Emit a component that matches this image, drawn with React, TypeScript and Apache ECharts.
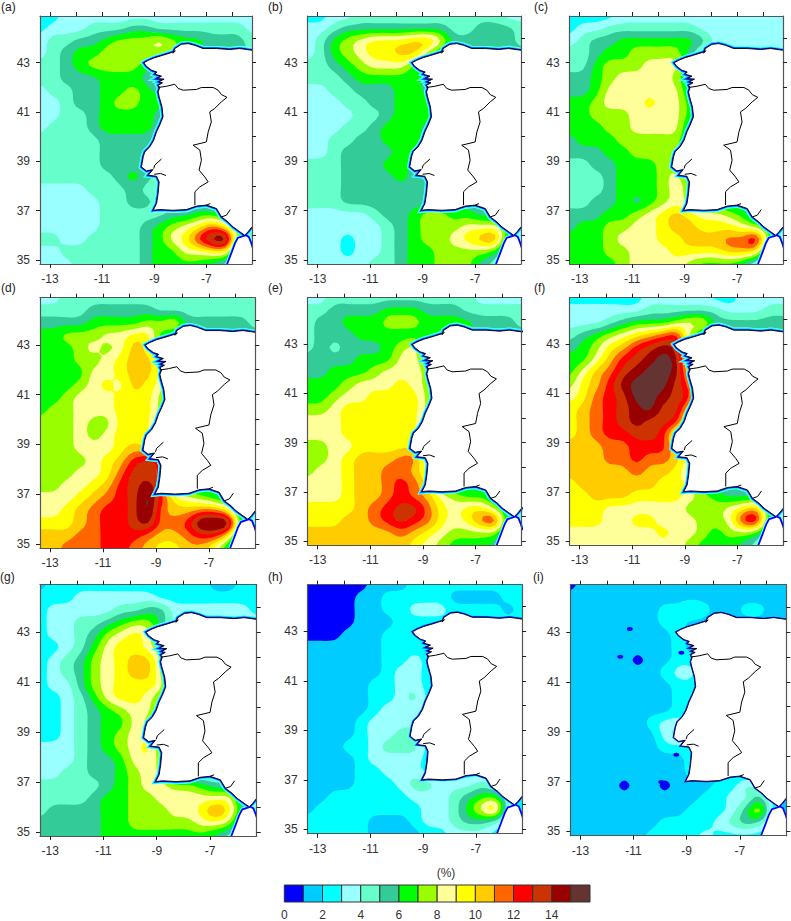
import React, { useEffect, useRef } from "react";
import * as echarts from "echarts";

// Colour classes 0..15 (one per percentage unit)
const classColors = ["#0000FF","#00CCFF","#00FFFF","#99FFFF","#66FFCC","#33CC99","#00FF00","#99FF00","#FFFF99","#FFFF00","#FFCC00","#FF6600","#FF0000","#CC3300","#990000","#663333"];
const colorbarLabels = [0,2,4,6,8,10,12,14];
const lonLabels = [-13,-11,-9,-7];
const lonTicks = [-13,-12,-11,-10,-9,-8,-7,-6];
const latLabels = [35,37,39,41,43];
const latTicks = [35,36,37,38,39,40,41,42,43,44];
const lonMin = -13.38, lonMax = -5.25, latMin = 34.83, latMax = 44.89;
const panelNames = ["(a)","(b)","(c)","(d)","(e)","(f)","(g)","(h)","(i)"];

// Values: one hex digit per grid node = % class, north to south, west to east
const valuesA = ["22333333333333333","23334445544444443","34455677787665554","34566777776655554","44567777655555555","44555666544444444","34455667654444444","33455677664444444","33445666654444444","34445666654444444","44444555544444444","44444555544444444","44444555544444444","44444456544444444","33334445444444444","33333445544444444","33333444445566555","3333344456789b965","443344445689cef63","33444444566889932","33344444566665422"];
const valuesB = ["22334444444444433","33455555555445554","34678999aa8555554","3467899aa75555555","44567888655555555","44456666655555555","33445556655555555","33344556665555555","33334456665555555","33344566655555555","33445566655555555","33455556655555555","44455566555555555","44455556555555555","44455555555555555","44455555555555555","33333455677665555","33333345677788863","3332334567789ab53","33323345667777632","33333445667775422"];
const valuesC = ["22223333333333333","23344444443333333","34556666665333333","44566777753333333","44677788854444444","55678888754444444","55688888854444444","66788898865555555","66777888865555555","66677888855555555","56667777755555555","55566777755555555","44556667755555555","44456667865555555","44456667875555555","44556567875555555","55566789a98876444","56677889aa9998753","666788899aaabbd63","666778889999aa932","66667888876665322"];
const valuesD = ["33444444444444444","44445555544444444","55556666778555554","66777889965555555","6667878a965555555","6667789aa85555555","6666889aa85555555","6667898a985555555","66788899975555555","67788899975555555","77787799965555555","77787899965555555","7778889a965555555","777789acdc5555555","777889bddc5555555","77889acdec5555555","8889abcdfc9876555","889abccdfbaabb943","999abccdebbcfff53","aaabbcccbaabcc932","aabbbccba99aa8522"];
const valuesE = ["33444444444443333","44555566655544444","45566677766665554","45556666665555555","45455567855555555","55556668865555555","55666788875555555","66678889875555555","66788999975555555","77899999975555555","88899999965555555","88899999965555555","77889999965555555","7789aaabb75555555","7889aabba85555555","8889aabcb95555555","8889aabcba8766555","9999abcddb9899743","999aabcdcb989bc53","aaaaaaaba98777732","aaaaaaaa987666522"];
const valuesF = ["22222233333223333","33333344444433344","33345666788555555","456789abc75555555","5679acded85555555","668acdefe85555555","68abdeffe95555555","79acefffdb5555555","89bcdffedc5555555","9abcdefdd95555555","9abcdeddc75555555","9abccddc875555555","aaabbccc965555555","aaabbcbba85555555","aaaaabaa975555555","9aaaaaa9985555555","99aaa999987655555","99988888877789a53","9998899888778cd53","88888889887677632","88888888876665422"];
const valuesG = ["12222222222221122","22233333322222222","23333344553333332","23344567753333333","23345789853333333","22346899863333333","2345789aa73333333","2345789aa73333333","23357899983333333","22346899863333333","22345678853333333","22345668753333333","22345678853333333","33345678963333333","33345568873333333","33445567873333333","44444567887765555","44445667788888843","4555566777889b953","55555667777788732","55555666666665422"];
const valuesH = ["00000111222222222","00001122222111122","00001122333222212","00001112222222222","00011122222222222","11111122222222222","11111122322222222","11111123322222222","11111223322222222","11111223422222222","11111233322222222","11112333322222222","11112334422222222","11122344422222222","11112333322222222","11112233322222222","11112223443334322","11222222333456632","12222222233468a32","22222111233455422","22222111122333222"];
const valuesI = ["01111111111111111","11111111111111111","11111112232112211","11111112211111111","11111111211111111","11111111211111111","11111011221111111","11111112331111111","11111111221111111","11111111221111111","11111111221111111","11111123321111111","11111113421111111","11111112221111111","11111111121111111","11111111121111111","11110110111224321","11111111112233521","11111111122235821","11111112222345421","11111122223222222"];
const panelValues = [valuesA,valuesB,valuesC,valuesD,valuesE,valuesF,valuesG,valuesH,valuesI];

// Small isolated patches: panel, lon, lat, class
const patchPanels = [8,8,8,8,8];
const patchLons = [-11.14,-9.2,-9.39,-9.96,-11.5];
const patchLats = [43.11,42.16,38.07,36.98,42.0];
const patchClasses = [0,0,0,0,0];

// Map outlines as lon/lat
const coastline = [[-5.0,43.5],[-5.25,43.5],[-5.72,43.57],[-6.1,43.53],[-6.61,43.57],[-7.13,43.57],[-7.44,43.7],[-7.7,43.77],[-7.96,43.74],[-8.21,43.57],[-8.28,43.38],[-8.19,43.48],[-8.27,43.43],[-8.66,43.3],[-8.98,43.2],[-9.23,43.09],[-9.4,42.99],[-9.3,42.85],[-9.1,42.69],[-8.9,42.62],[-8.98,42.53],[-8.72,42.45],[-8.9,42.35],[-8.62,42.33],[-8.82,42.22],[-8.68,42.18],[-8.85,42.08],[-8.79,41.99],[-8.85,41.81],[-8.81,41.61],[-8.7,41.2],[-8.66,40.8],[-8.79,40.46],[-8.91,40.19],[-9.02,39.85],[-9.17,39.58],[-9.36,39.38],[-9.42,39.18],[-9.49,38.77],[-9.3,38.61],[-9.05,38.66],[-9.23,38.43],[-8.91,38.39],[-8.81,38.16],[-8.85,37.69],[-8.91,37.28],[-9.04,37.01],[-8.79,37.04],[-8.27,37.01],[-7.76,37.04],[-7.38,37.18],[-7.0,37.22],[-6.61,37.08],[-6.42,36.74],[-6.17,36.54],[-5.98,36.34],[-5.72,36.14],[-5.53,36.0],[-5.4,36.14],[-5.25,36.34],[-5.0,36.45]];
const moroccoCoast = [[-6.25,34.6],[-6.17,34.82],[-6.01,35.26],[-5.87,35.66],[-5.77,35.86],[-5.49,35.96],[-5.4,35.91],[-5.31,35.66],[-5.25,35.46],[-5.0,35.3]];
const borderLine = [[-8.85,41.99],[-8.53,42.04],[-8.21,42.12],[-8.08,41.95],[-7.89,41.88],[-7.38,41.91],[-7.19,41.99],[-6.74,41.99],[-6.55,41.88],[-6.42,41.7],[-6.21,41.59],[-6.42,41.41],[-6.68,41.14],[-6.87,41.0],[-6.81,40.59],[-6.93,40.19],[-7.0,39.78],[-7.51,39.65],[-7.25,39.45],[-7.19,39.04],[-7.28,38.64],[-7.06,38.36],[-6.93,38.16],[-7.25,37.96],[-7.44,37.76],[-7.44,37.22]];
const riverLines = [[[-9.02,38.7],[-8.98,38.84],[-8.72,39.09]],[[-9.0,38.47],[-8.75,38.5],[-8.55,38.42]],[[-7.0,37.22],[-6.85,37.28]],[[-6.42,36.74],[-6.23,36.81],[-6.08,37.04]]];
const coastClassesByPanel = [[3,2,1,0],[3,2,1,0],[3,2,1,0],[3,2,1,0],[3,2,1,0],[3,2,1,0],[3,2,1,0],[1,0],[0]];

// Layout
const panelBoxes = [[40,16,212,248],[307.7,16,213.3,248],[569.7,16,213.3,248],[40,297.7,215.3,250.6],[307.7,297.7,214,247.6],[569.7,297.7,213.6,247.6],[40,584.7,216.7,251.3],[307.7,584.7,214.3,249],[570.3,584.7,216,251]];
const letterPositions = [[1,7],[268,7],[534,7],[1,288],[268,288],[534,288],[0,577],[268,577],[533,577]];
const FONT = "'Liberation Sans', Arial, sans-serif";
const TEXT = "#333333";
const FRAME = "#555555";
const REFINE = 3;

const decode = (rows: string[]) => rows.map((r) => Array.from(r.padEnd(17, r[r.length - 1])).map((c) => parseInt(c, 16) + 0.5));

function refineField(f: number[][]) {
  const R = f.length, C = f[0].length;
  const at = (j: number, i: number) => f[Math.max(0, Math.min(R - 1, j))][Math.max(0, Math.min(C - 1, i))];
  const cr = (a: number, b: number, c: number, d: number, t: number) =>
    0.5 * (2 * b + (c - a) * t + (2 * a - 5 * b + 4 * c - d) * t * t + (3 * b - a - 3 * c + d) * t * t * t);
  const out: number[][] = [];
  for (let jj = 0; jj <= (R - 1) * REFINE; jj++) {
    const J = Math.min(R - 2, Math.floor(jj / REFINE)), tj = jj / REFINE - J;
    const row: number[] = [];
    for (let ii = 0; ii <= (C - 1) * REFINE; ii++) {
      const I = Math.min(C - 2, Math.floor(ii / REFINE)), ti = ii / REFINE - I;
      const col = [-1, 0, 1, 2].map((dj) => cr(at(J + dj, I - 1), at(J + dj, I), at(J + dj, I + 1), at(J + dj, I + 2), ti));
      const v = cr(col[0], col[1], col[2], col[3], tj);
      const cs = [at(J, I), at(J, I + 1), at(J + 1, I), at(J + 1, I + 1)];
      row.push(Math.max(Math.min(...cs), Math.min(Math.max(...cs), v)));
    }
    out.push(row);
  }
  return out;
}

// Light rounding of the drawn contours so that they do not follow the reading grid
function soften(f: number[][]) {
  const w = [1, 4, 6, 4, 1];
  const R = f.length, C = f[0].length;
  const h = f.map((row) => row.map((_, i) => w.reduce((s, k, o) => s + k * row[Math.max(0, Math.min(C - 1, i + o - 2))], 0) / 16));
  return h.map((row, j) => row.map((_, i) => w.reduce((s, k, o) => s + k * h[Math.max(0, Math.min(R - 1, j + o - 2))][i], 0) / 16));
}

const fields = panelValues.map((p) => soften(refineField(decode(p))));

function levelPath(v: number[][], level: number, xs: number[], ys: number[]) {
  let d = "";
  const n = (a: number) => a.toFixed(1);
  const last = classColors.length - 1;
  for (let j = 0; j < v.length - 1; j++) {
    let run = -1;
    const flush = (end: number) => {
      if (run >= 0) {
        d += `M${n(xs[run])} ${n(ys[j])}L${n(xs[end])} ${n(ys[j])}L${n(xs[end])} ${n(ys[j + 1])}L${n(xs[run])} ${n(ys[j + 1])}Z`;
        run = -1;
      }
    };
    for (let i = 0; i < v[0].length - 1; i++) {
      const q = [v[j][i], v[j][i + 1], v[j + 1][i + 1], v[j + 1][i]];
      const lo = Math.min(q[0], q[1], q[2], q[3]), hi = Math.max(q[0], q[1], q[2], q[3]);
      if (hi < level || (level < last && lo >= level + 1)) { flush(i); continue; }
      if (lo >= level) { if (run < 0) run = i; continue; }
      flush(i);
      const px = [xs[i], xs[i + 1], xs[i + 1], xs[i]], py = [ys[j], ys[j], ys[j + 1], ys[j + 1]];
      let s = "";
      for (let k = 0; k < 4; k++) {
        const m = (k + 1) % 4;
        const ins = q[k] >= level, inm = q[m] >= level;
        if (ins) s += (s ? "L" : "M") + n(px[k]) + " " + n(py[k]);
        if (ins !== inm) {
          const t = (level - q[k]) / (q[m] - q[k]);
          s += (s ? "L" : "M") + n(px[k] + (px[m] - px[k]) * t) + " " + n(py[k] + (py[m] - py[k]) * t);
        }
      }
      if (s) d += s + "Z";
    }
    flush(v[0].length - 1);
  }
  return d;
}

function buildOption() {
  const grid: any[] = [], xAxis: any[] = [], yAxis: any[] = [], series: any[] = [], graphic: any[] = [];
  const line = { show: true, onZero: false, lineStyle: { color: FRAME, width: 1.2 } };
  const tick = (vals: number[]) => ({ show: true, length: 4, customValues: vals, lineStyle: { color: "#222", width: 1 } });
  const label = (vals: number[], margin: number) => ({ show: true, customValues: vals, margin, color: TEXT, fontSize: 12, fontFamily: FONT, formatter: (v: number) => String(v) });
  const levels = classColors.map((_, k) => [k]);
  panelBoxes.forEach(([left, top, width, height], p) => {
    grid.push({ left, top, width, height, show: false });
    const gx = xAxis.length, gy = yAxis.length;
    const xBase = { type: "value", gridIndex: p, min: lonMin, max: lonMax, splitLine: { show: false }, axisLine: line, z: 10 };
    const yBase = { type: "value", gridIndex: p, min: latMin, max: latMax, splitLine: { show: false }, axisLine: line, z: 10 };
    xAxis.push({ ...xBase, position: "bottom", axisTick: tick(lonLabels), axisLabel: label(lonLabels, 9) });
    xAxis.push({ ...xBase, position: "top", axisTick: tick(lonTicks), axisLabel: { show: false } });
    yAxis.push({ ...yBase, position: "left", axisTick: tick(latLabels), axisLabel: label(latLabels, 10) });
    yAxis.push({ ...yBase, position: "right", axisTick: tick(latTicks), axisLabel: { show: false } });
    const field = fields[p];
    series.push({
      type: "custom", coordinateSystem: "cartesian2d", xAxisIndex: gx, yAxisIndex: gy, clip: true, silent: true, z: 2,
      data: levels,
      renderItem: (params: any, api: any) => {
        const level = params.dataIndex;
        const nx = field[0].length, ny = field.length;
        const xs = Array.from({ length: nx }, (_, i) => api.coord([lonMin + ((lonMax - lonMin) * i) / (nx - 1), latMin])[0]);
        const ys = Array.from({ length: ny }, (_, j) => api.coord([lonMin, latMax - ((latMax - latMin) * j) / (ny - 1)])[1]);
        return { type: "path", shape: { pathData: levelPath(field, level, xs, ys) }, style: { fill: classColors[level] }, silent: true };
      },
    });
    const patches = patchPanels.map((q, k) => (q === p ? k : -1)).filter((k) => k >= 0);
    if (patches.length) {
      series.push({
        type: "custom", coordinateSystem: "cartesian2d", xAxisIndex: gx, yAxisIndex: gy, clip: true, silent: true, z: 2.5,
        data: patches.map((k) => [patchLons[k], patchLats[k]]),
        renderItem: (params: any, api: any) => {
          const k = patches[params.dataIndex];
          const c = api.coord([patchLons[k], patchLats[k]]);
          return { type: "ellipse", shape: { cx: c[0], cy: c[1], rx: 3, ry: 2 }, style: { fill: classColors[patchClasses[k]] } };
        },
      });
    }
    series.push({
      type: "custom", coordinateSystem: "cartesian2d", xAxisIndex: gx, yAxisIndex: gy, clip: true, silent: true, z: 3,
      data: [[0]],
      renderItem: (_: any, api: any) => {
        const to = (pts: number[][]) => pts.map((c) => api.coord(c));
        const coast = to(coastline), morocco = to(moroccoCoast);
        const kids: any[] = [];
        coastClassesByPanel[p].forEach((k) => {
          const w = 2 + k * 1.1;
          [coast, morocco].forEach((pts) => kids.push({ type: "polyline", shape: { points: pts }, style: { stroke: classColors[k], lineWidth: w, fill: null } }));
        });
        kids.push({ type: "polyline", shape: { points: morocco }, style: { stroke: classColors[0], lineWidth: 3.4, fill: null } });
        kids.push({ type: "polygon", shape: { points: [...coast, api.coord([-4.8, 36.45]), api.coord([-4.8, 43.5])] }, style: { fill: "#ffffff" } });
        kids.push({ type: "polygon", shape: { points: [...morocco, api.coord([-4.8, 34.6])] }, style: { fill: "#ffffff" } });
        kids.push({ type: "polyline", shape: { points: coast }, style: { stroke: "#000", lineWidth: 0.9, fill: null } });
        kids.push({ type: "polyline", shape: { points: to(borderLine) }, style: { stroke: "#000", lineWidth: 1, fill: null } });
        riverLines.forEach((r) => kids.push({ type: "polyline", shape: { points: to(r) }, style: { stroke: "#000", lineWidth: 1, fill: null } }));
        return { type: "group", children: kids };
      },
    });
    const [lx, ly] = letterPositions[p];
    graphic.push({ type: "text", x: lx, y: ly, style: { text: panelNames[p], font: `12px ${FONT}`, fill: "#222", textVerticalAlign: "middle" } });
  });
  // Colour bar
  const cg = grid.length, cx = xAxis.length, cy = yAxis.length;
  grid.push({ left: 284.3, top: 885, width: 305.7, height: 17.7, show: false });
  xAxis.push({ type: "value", gridIndex: cg, min: 0, max: 16, splitLine: { show: false }, axisLine: { show: false }, axisTick: { show: false }, axisLabel: label(colorbarLabels, 7) });
  yAxis.push({ type: "value", gridIndex: cg, min: 0, max: 1, show: false });
  series.push({
    type: "custom", coordinateSystem: "cartesian2d", xAxisIndex: cx, yAxisIndex: cy, clip: false, silent: true,
    data: classColors.map((_, k) => [k, 1]),
    renderItem: (params: any, api: any) => {
      const k = params.dataIndex;
      const a = api.coord([k, 1]), b = api.coord([k + 1, 0]);
      return { type: "rect", shape: { x: a[0], y: a[1], width: b[0] - a[0], height: b[1] - a[1] }, style: { fill: classColors[k], stroke: "#333", lineWidth: 1 } };
    },
  });
  graphic.push({ type: "text", x: 446, y: 873, style: { text: "(%)", font: `12px ${FONT}`, fill: TEXT, textAlign: "center", textVerticalAlign: "middle" } });
  return { animation: false, backgroundColor: "#ffffff", grid, xAxis, yAxis, series, graphic };
}

export default function App() {
  const ref = useRef<HTMLDivElement>(null);
  useEffect(() => {
    const chart = echarts.init(ref.current as HTMLDivElement, undefined, { renderer: "svg" });
    chart.setOption(buildOption() as any);
    return () => chart.dispose();
  }, []);
  return <div ref={ref} style={{ position: "absolute", left: 0, top: 0, width: 791, height: 921 }} />;
}
